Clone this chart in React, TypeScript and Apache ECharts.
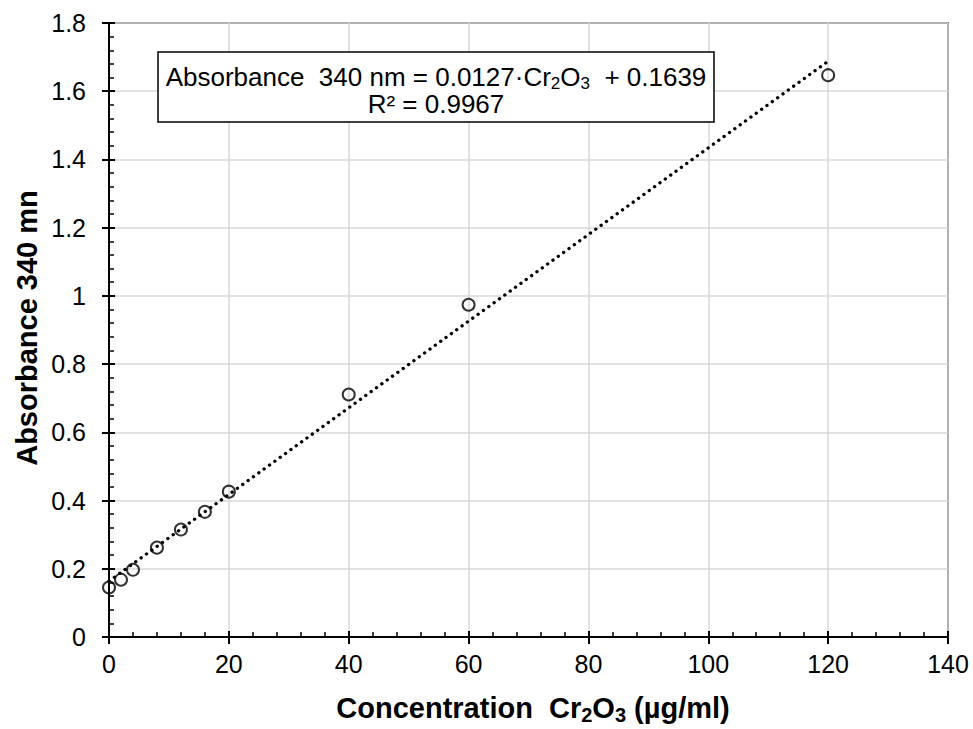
import React, { useEffect, useRef } from "react";
import * as echarts from "echarts";

const concentration = [0, 2, 4, 8, 12, 16, 20, 40, 60, 120];
const absorbance = [0.145, 0.168, 0.197, 0.262, 0.315, 0.367, 0.426, 0.711, 0.974, 1.647];
const trendX = [0, 120];
const trendY = [0.1639, 1.6879];
const xTicks = { min: 0, max: 140, interval: 20 };
const yTicks = { min: 0, max: 1.8, interval: 0.2 };

const FONT = "'Liberation Sans', Arial, sans-serif";

export default function App() {
  const ref = useRef<HTMLDivElement>(null);
  useEffect(() => {
    if (!ref.current) return;
    const chart = echarts.init(ref.current, undefined, { renderer: "svg" });
    const axisBase = (t: any) => ({
      type: "value",
      min: t.min,
      max: t.max,
      interval: t.interval,
    });
    const option: any = {
      animation: false,
      backgroundColor: "#ffffff",
      textStyle: { fontFamily: FONT },
      grid: {
        left: 109,
        top: 23,
        right: 25,
        bottom: 92,
        show: true,
        borderColor: "#000",
        borderWidth: 1.5,
        backgroundColor: "transparent",
      },
      xAxis: [
        {
          ...axisBase(xTicks),
          position: "bottom",
          axisLine: { show: true, onZero: false, lineStyle: { color: "#000", width: 2 } },
          axisTick: { show: true, inside: false, length: 7, lineStyle: { color: "#000", width: 2 } },
          minorTick: { show: false },
          axisLabel: { color: "#000", fontSize: 25, fontFamily: FONT, margin: 14 },
          splitLine: { show: true, lineStyle: { color: "#d9d9d9", width: 1.5 } },
        },
        {
          ...axisBase(xTicks),
          position: "bottom",
          axisLine: { show: false, onZero: false },
          axisTick: { show: true, inside: true, length: 6, lineStyle: { color: "#000", width: 2 } },
          minorTick: { show: true, splitNumber: 5, length: 5, lineStyle: { color: "#000", width: 1.5 } },
          axisLabel: { show: false },
          splitLine: { show: false },
        },
      ],
      yAxis: [
        {
          ...axisBase(yTicks),
          position: "left",
          axisLine: { show: true, onZero: false, lineStyle: { color: "#000", width: 2 } },
          axisTick: { show: true, inside: false, length: 7, lineStyle: { color: "#000", width: 2 } },
          minorTick: { show: false },
          axisLabel: { color: "#000", fontSize: 25, fontFamily: FONT, margin: 23 },
          splitLine: { show: true, lineStyle: { color: "#d9d9d9", width: 1.5 } },
        },
        {
          ...axisBase(yTicks),
          position: "left",
          axisLine: { show: false, onZero: false },
          axisTick: { show: true, inside: true, length: 6, lineStyle: { color: "#000", width: 2 } },
          minorTick: { show: true, splitNumber: 5, length: 5, lineStyle: { color: "#000", width: 1.5 } },
          axisLabel: { show: false },
          splitLine: { show: false },
        },
      ],
      series: [
        {
          type: "line",
          xAxisIndex: 0,
          yAxisIndex: 0,
          data: trendX.map((x, i) => [x, trendY[i]]),
          showSymbol: false,
          symbol: "none",
          lineStyle: { color: "#000", width: 3.3, type: [0.1, 6.5], cap: "round" },
          z: 2,
        },
        {
          type: "scatter",
          xAxisIndex: 0,
          yAxisIndex: 0,
          data: concentration.map((x, i) => [x, absorbance[i]]),
          symbol: "circle",
          symbolSize: 12,
          itemStyle: { color: "rgba(0,0,0,0)", borderColor: "#000", borderWidth: 2 },
          z: 3,
        },
      ],
      graphic: [
        {
          type: "rect",
          shape: { x: 158, y: 52, width: 556, height: 70 },
          style: { fill: "#fff", stroke: "#000", lineWidth: 1.5 },
          z: 10,
        },
        {
          type: "text",
          x: 436,
          y: 77,
          z: 11,
          style: {
            text: "{n|Absorbance  340 nm = 0.0127·Cr}{s|2}{n|O}{s|3}{n|  + 0.1639}",
            align: "center",
            verticalAlign: "middle",
            fill: "#000",
            font: `26px ${FONT}`,
            rich: {
              n: { fontSize: 26, fontFamily: FONT, color: "#000", lineHeight: 30, verticalAlign: "middle" },
              s: { fontSize: 17, fontFamily: FONT, color: "#000", lineHeight: 30, verticalAlign: "bottom" },
            },
          },
        },
        {
          type: "text",
          x: 436,
          y: 104,
          z: 11,
          style: {
            text: "R² = 0.9967",
            align: "center",
            verticalAlign: "middle",
            fill: "#000",
            font: `26px ${FONT}`,
          },
        },
        {
          type: "text",
          x: 533,
          y: 708,
          style: {
            text: "{n|Concentration  Cr}{s|2}{n|O}{s|3}{n| (µg/ml)}",
            align: "center",
            verticalAlign: "middle",
            fill: "#000",
            rich: {
              n: { fontSize: 29, fontWeight: "bold", fontFamily: FONT, color: "#000", lineHeight: 34, verticalAlign: "middle" },
              s: { fontSize: 20, fontWeight: "bold", fontFamily: FONT, color: "#000", lineHeight: 34, verticalAlign: "bottom" },
            },
          },
        },
        {
          type: "text",
          x: 27,
          y: 328,
          rotation: Math.PI / 2,
          style: {
            text: "Absorbance 340 mn",
            align: "center",
            verticalAlign: "middle",
            fill: "#000",
            font: `bold 29px ${FONT}`,
          },
        },
      ],
    };
    chart.setOption(option);
    return () => chart.dispose();
  }, []);
  return <div ref={ref} style={{ width: 973, height: 729, position: "absolute", left: 0, top: 0 }} />;
}
